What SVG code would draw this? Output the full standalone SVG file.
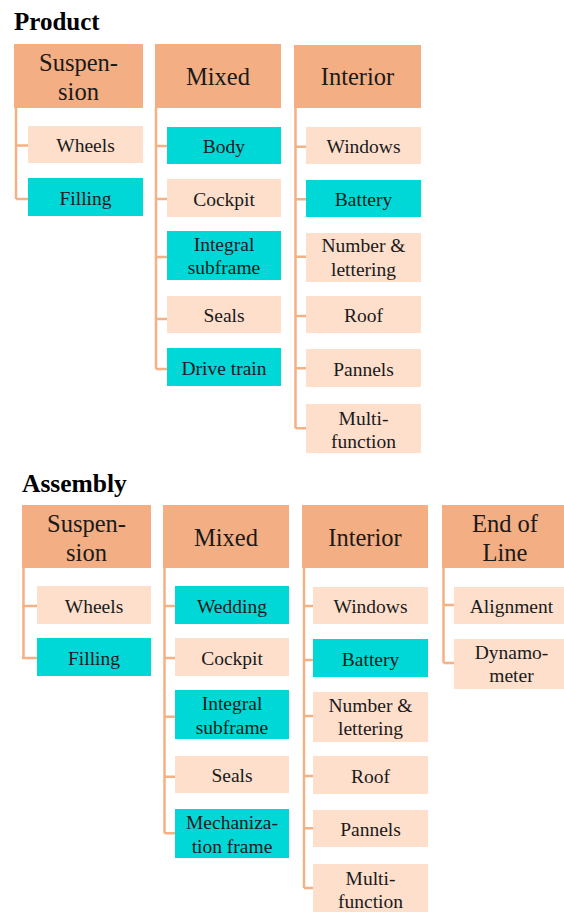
<svg xmlns="http://www.w3.org/2000/svg" width="564" height="912" viewBox="0 0 564 912" font-family="'Liberation Serif', 'Times New Roman', serif">
<style>
text{font-family:'Liberation Serif','Times New Roman',serif}
.title{font-weight:bold;font-size:25px;fill:#000}
.h rect{fill:#F4AE83}
.h text{font-size:24.5px;fill:#1a1a1a;text-anchor:middle}
.c rect{fill:#FDDFCC}
.k rect{fill:#00D8D8}
.c text,.k text{font-size:19.5px;fill:#1a1a1a;text-anchor:middle}
.conn path{fill:none;stroke:#F4B183;stroke-width:2.5}
</style>
<rect width="564" height="912" fill="#fff"/>
<text class="title" x="14" y="30">Product</text>
<text class="title" x="22" y="492" style="font-size:25.5px">Assembly</text>

<g class="conn" id="connectors">
<path d="M16 108V199M16 145.5H28M16 199H28"/>
<path d="M156 108V369M156 146H167M156 199H167M156 257H167M156 319H167M156 369H167"/>
<path d="M295.5 108V428.3M295.5 146.7H306M295.5 199.3H306M295.5 256.7H306M295.5 316H306M295.5 368.3H306M295.5 428.3H306"/>
<path d="M23.5 568V658M22 606H37M22 658H37"/>
<path d="M164.5 568V833.3M164.5 606H175M164.5 658H175M164.5 716.7H175M164.5 776.7H175M164.5 833.3H175"/>
<path d="M304 568V888M304 606H313M304 660H313M304 716H313M304 776H313M304 828.3H313M304 888H313"/>
<path d="M443.5 568V663M443.5 605H454M443.5 663H454"/>
</g>

<!-- Product -->
<g id="p-suspension" class="h"><rect x="14" y="44" width="129" height="64"/><text x="78.5" y="71">Suspen-</text><text x="78.5" y="99.5">sion</text></g>
<g id="p-mixed" class="h"><rect x="155" y="44" width="126" height="64"/><text x="218" y="85">Mixed</text></g>
<g id="p-interior" class="h"><rect x="294" y="45" width="127" height="63"/><text x="357.5" y="85">Interior</text></g>

<g id="p-wheels" class="c"><rect x="28" y="126" width="115" height="37"/><text x="85.5" y="152">Wheels</text></g>
<g id="p-filling" class="k"><rect x="28" y="178" width="115" height="38"/><text x="85.5" y="204.5">Filling</text></g>

<g id="p-body" class="k"><rect x="167" y="127" width="114" height="37"/><text x="224" y="153">Body</text></g>
<g id="p-cockpit" class="c"><rect x="167" y="179" width="114" height="38"/><text x="224" y="205.5">Cockpit</text></g>
<g id="p-integral" class="k"><rect x="167" y="231" width="114" height="49"/><text x="224" y="251">Integral</text><text x="224" y="274">subframe</text></g>
<g id="p-seals" class="c"><rect x="167" y="296" width="114" height="37"/><text x="224" y="322">Seals</text></g>
<g id="p-drive" class="k"><rect x="167" y="348" width="114" height="38"/><text x="224" y="374.5">Drive  train</text></g>

<g id="p-windows" class="c"><rect x="306" y="127" width="115" height="37"/><text x="363.5" y="153">Windows</text></g>
<g id="p-battery" class="k"><rect x="306" y="180" width="115" height="37"/><text x="363.5" y="206">Battery</text></g>
<g id="p-number" class="c"><rect x="306" y="233" width="115" height="49"/><text x="363.5" y="252">Number &amp;</text><text x="363.5" y="275.5">lettering</text></g>
<g id="p-roof" class="c"><rect x="306" y="296" width="115" height="37"/><text x="363.5" y="322">Roof</text></g>
<g id="p-pannels" class="c"><rect x="306" y="349" width="115" height="38"/><text x="363.5" y="375.5">Pannels</text></g>
<g id="p-multi" class="c"><rect x="306" y="404" width="115" height="49"/><text x="363.5" y="424.5">Multi-</text><text x="363.5" y="448">function</text></g>

<!-- Assembly -->
<g id="a-suspension" class="h"><rect x="22" y="505" width="129" height="63"/><text x="86.5" y="532">Suspen-</text><text x="86.5" y="560.5">sion</text></g>
<g id="a-mixed" class="h"><rect x="163" y="505" width="126" height="63"/><text x="226" y="545.5">Mixed</text></g>
<g id="a-interior" class="h"><rect x="302" y="505" width="126" height="63"/><text x="365" y="545.5">Interior</text></g>
<g id="a-eol" class="h"><rect x="442" y="505" width="126" height="63"/><text x="505" y="532">End of</text><text x="505" y="560.5">Line</text></g>

<g id="a-wheels" class="c"><rect x="37" y="586" width="114" height="38"/><text x="94" y="612.5">Wheels</text></g>
<g id="a-filling" class="k"><rect x="37" y="638" width="114" height="38"/><text x="94" y="664.5">Filling</text></g>

<g id="a-wedding" class="k"><rect x="175" y="586" width="114" height="38"/><text x="232" y="612.5">Wedding</text></g>
<g id="a-cockpit" class="c"><rect x="175" y="638" width="114" height="38"/><text x="232" y="664.5">Cockpit</text></g>
<g id="a-integral" class="k"><rect x="175" y="690" width="114" height="49"/><text x="232" y="710">Integral</text><text x="232" y="733.5">subframe</text></g>
<g id="a-seals" class="c"><rect x="175" y="756" width="114" height="37"/><text x="232" y="782">Seals</text></g>
<g id="a-mech" class="k"><rect x="175" y="809" width="114" height="49"/><text x="232" y="829">Mechaniza-</text><text x="232" y="852.5">tion  frame</text></g>

<g id="a-windows" class="c"><rect x="313" y="587" width="115" height="37"/><text x="370.5" y="613">Windows</text></g>
<g id="a-battery" class="k"><rect x="313" y="639" width="115" height="38"/><text x="370.5" y="665.5">Battery</text></g>
<g id="a-number" class="c"><rect x="313" y="692" width="115" height="50"/><text x="370.5" y="711.5">Number &amp;</text><text x="370.5" y="735">lettering</text></g>
<g id="a-roof" class="c"><rect x="313" y="756" width="115" height="38"/><text x="370.5" y="782.5">Roof</text></g>
<g id="a-pannels" class="c"><rect x="313" y="810" width="115" height="37"/><text x="370.5" y="836">Pannels</text></g>
<g id="a-multi" class="c"><rect x="313" y="864" width="115" height="49"/><text x="370.5" y="884.5">Multi-</text><text x="370.5" y="908">function</text></g>

<g id="a-alignment" class="c"><rect x="454" y="587" width="115" height="37"/><text x="511.5" y="613">Alignment</text></g>
<g id="a-dynamo" class="c"><rect x="454" y="639" width="115" height="50"/><text x="511.5" y="658.5">Dynamo-</text><text x="511.5" y="682">meter</text></g>
</svg>
